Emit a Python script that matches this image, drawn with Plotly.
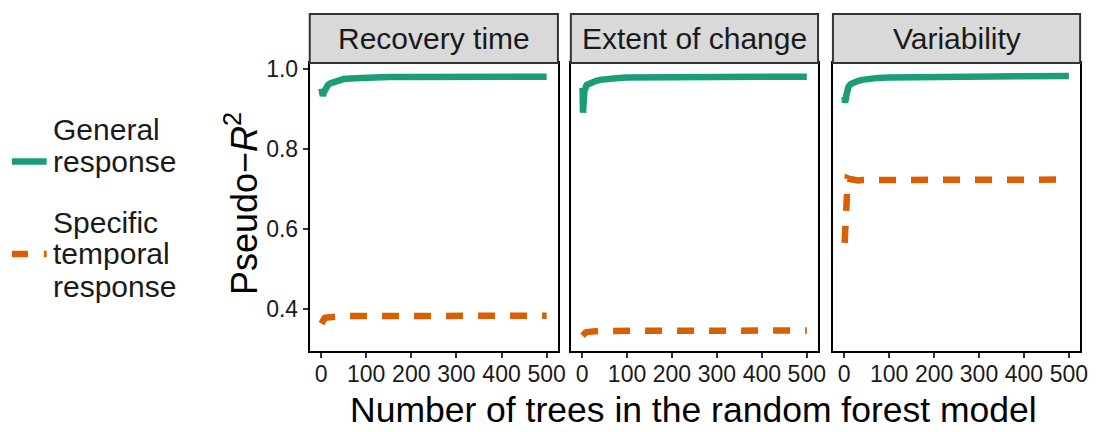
import plotly.graph_objects as go

W, H = 1107, 432

panels = ["Recovery time", "Extent of change", "Variability"]
trees = [1, 2, 3, 4, 5, 6, 8, 10, 15, 20, 30, 40, 50, 75, 100, 150, 200, 300, 400, 500]

general = {
    "Recovery time":    [0.950, 0.940, 0.932, 0.932, 0.936, 0.940, 0.947, 0.952, 0.959, 0.963, 0.968, 0.971, 0.974, 0.976, 0.978, 0.979, 0.979, 0.980, 0.980, 0.980],
    "Extent of change": [0.952, 0.890, 0.900, 0.925, 0.943, 0.950, 0.956, 0.959, 0.962, 0.965, 0.969, 0.972, 0.974, 0.976, 0.978, 0.979, 0.979, 0.980, 0.980, 0.980],
    "Variability":      [0.930, 0.915, 0.918, 0.926, 0.935, 0.942, 0.950, 0.956, 0.962, 0.965, 0.969, 0.972, 0.974, 0.977, 0.978, 0.979, 0.980, 0.981, 0.981, 0.982],
}
specific = {
    "Recovery time":    [0.363, 0.366, 0.369, 0.371, 0.373, 0.375, 0.377, 0.378, 0.379, 0.380, 0.381, 0.381, 0.382, 0.382, 0.382, 0.382, 0.382, 0.383, 0.383, 0.383],
    "Extent of change": [0.333, 0.335, 0.336, 0.337, 0.339, 0.340, 0.341, 0.342, 0.343, 0.344, 0.344, 0.345, 0.345, 0.345, 0.345, 0.345, 0.346, 0.346, 0.346, 0.346],
    "Variability":      [0.565, 0.600, 0.640, 0.690, 0.718, 0.724, 0.726, 0.725, 0.723, 0.721, 0.721, 0.722, 0.722, 0.722, 0.722, 0.722, 0.722, 0.723, 0.723, 0.723],
}

x_ticks = [0, 100, 200, 300, 400, 500]
y_ticks = [0.4, 0.6, 0.8, 1.0]
y_tick_text = ["0.4", "0.6", "0.8", "1.0"]

GREEN = "#1B9E77"
ORANGE = "#D95F02"
FONT = "Liberation Sans, Arial, Helvetica, sans-serif"

def px_x(x):
    return x / W

def px_y(y):
    return 1 - y / H

panel_px = [(312, 562), (575, 824), (839, 1088)]
top_px, bot_px = 57, 350
strip_top = 7

fig = go.Figure()

for i, name in enumerate(panels):
    sfx = "" if i == 0 else str(i + 1)
    fig.add_trace(go.Scatter(x=trees, y=general[name], mode="lines",
                             line=dict(color=GREEN, width=6.5),
                             xaxis="x" + sfx, yaxis="y" + sfx, showlegend=False))
    fig.add_trace(go.Scatter(x=trees, y=specific[name], mode="lines",
                             line=dict(color=ORANGE, width=6.5, dash="17px,15px"),
                             xaxis="x" + sfx, yaxis="y" + sfx, showlegend=False))

layout = dict(width=W, height=H, autosize=False,
              margin=dict(l=0, r=0, t=0, b=0),
              paper_bgcolor="white", plot_bgcolor="white",
              font=dict(family=FONT, color="#1A1A1A"),
              shapes=[], annotations=[])

for i, name in enumerate(panels):
    sfx = "" if i == 0 else str(i + 1)
    x0, x1 = panel_px[i]
    layout["xaxis" + sfx] = dict(
        domain=[px_x(x0), px_x(x1)], range=[-25, 525], anchor="y" + sfx,
        tickvals=x_ticks, ticktext=[str(v) for v in x_ticks],
        ticks="outside", ticklen=5, tickwidth=1.5, tickcolor="#333333",
        ticklabelstandoff=-4,
        tickfont=dict(size=23, color="#1A1A1A", family=FONT),
        showline=True, linecolor="black", linewidth=2, mirror=True,
        showgrid=False, zeroline=False, fixedrange=True)
    yax = dict(
        domain=[px_y(bot_px), px_y(top_px)], range=[0.294, 1.014], anchor="x" + sfx,
        showline=True, linecolor="black", linewidth=2, mirror=True,
        showgrid=False, zeroline=False, fixedrange=True)
    if i == 0:
        yax.update(tickvals=y_ticks, ticktext=y_tick_text, ticks="outside",
                   ticklen=5, tickwidth=1.5, tickcolor="#333333",
                   tickfont=dict(size=23, color="#1A1A1A", family=FONT))
    else:
        yax.update(showticklabels=False, ticks="")
    layout["yaxis" + sfx] = yax

    layout["shapes"].append(dict(type="rect", xref="paper", yref="paper",
                                 x0=px_x(x0), x1=px_x(x1),
                                 y0=px_y(top_px), y1=px_y(strip_top),
                                 fillcolor="#D9D9D9",
                                 line=dict(color="#333333", width=2), layer="above"))
    layout["annotations"].append(dict(text=name, xref="paper", yref="paper",
                                      x=px_x((x0 + x1) / 2), y=px_y((strip_top + top_px) / 2),
                                      xanchor="center", yanchor="middle", showarrow=False,
                                      font=dict(size=30, color="#1A1A1A", family=FONT)))

# axis titles
layout["annotations"].append(dict(text="Number of trees in the random forest model",
                                  xref="paper", yref="paper", x=px_x(699), y=px_y(410),
                                  xanchor="center", yanchor="middle", showarrow=False,
                                  font=dict(size=35.5, color="black", family=FONT)))
layout["annotations"].append(dict(text="Pseudo\u2212<i>R</i><sup>2</sup>",
                                  xref="paper", yref="paper", x=px_x(243), y=px_y(200),
                                  xanchor="center", yanchor="middle", showarrow=False,
                                  textangle=-90,
                                  font=dict(size=36, color="black", family=FONT)))

# legend (manual)
legend_items = [
    ("General response", GREEN, "solid", ["General", "response"], [125, 157], 157),
    ("Specific temporal response", ORANGE, "16px,16px", ["Specific", "temporal", "response"], [219, 251, 284], 251),
]
for _, col, dash, lines, ys, key_y in legend_items:
    layout["shapes"].append(dict(type="line", xref="paper", yref="paper",
                                 x0=px_x(12), x1=px_x(47), y0=px_y(key_y), y1=px_y(key_y),
                                 line=dict(color=col, width=6.5, dash=dash)))
    for t, yy in zip(lines, ys):
        layout["annotations"].append(dict(text=t, xref="paper", yref="paper",
                                          x=px_x(51), y=px_y(yy), xanchor="left", yanchor="middle",
                                          showarrow=False,
                                          font=dict(size=30, color="#1A1A1A", family=FONT)))

fig.update_layout(**layout)
fig.write_html("out.html")
